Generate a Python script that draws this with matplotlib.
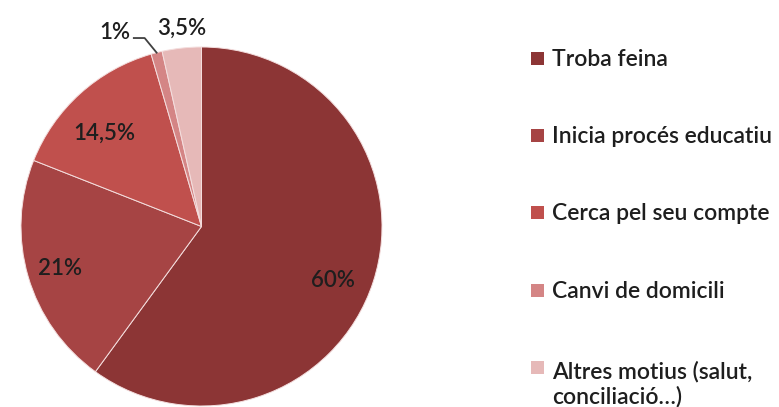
import numpy as np
import matplotlib.pyplot as plt
from matplotlib.patches import Rectangle

# data
categories = ['Troba feina', 'Inicia procés educatiu', 'Cerca pel seu compte',
              'Canvi de domicili', 'Altres motius (salut,\nconciliació…)']
values = [60, 21, 14.5, 1, 3.5]
value_labels = ['60%', '21%', '14,5%', '1%', '3,5%']
colors = ['#8c3535', '#a64444', '#c0504d', '#d48585', '#e6b9b8']

plt.rcParams['font.family'] = ['Lato', 'DejaVu Sans']
plt.rcParams['font.weight'] = 600
txt_col = '#1e1e1e'
W, H = 779, 407

fig = plt.figure(figsize=(W / 100, H / 100), dpi=100)
ax = fig.add_axes([21 / W, 1 / H, 361 / W, 359 / H])

wedges, _ = ax.pie(values, colors=colors, startangle=90, counterclock=False,
                   wedgeprops=dict(edgecolor='#f4dede', linewidth=0.7), radius=1)
ax.set_xlim(-1, 1)
ax.set_ylim(-1, 1)
ax.set_aspect('auto')
ax.axis('off')

# data labels inside the big slices (radius, angle nudge as in the original)
label_pos = [(0.79, -4.3), (0.82, 0.3), (0.75, 3.7)]
for w, lab, (r, off) in zip(wedges[:3], value_labels[:3], label_pos):
    ang = np.deg2rad((w.theta1 + w.theta2) / 2 + off)
    ax.text(r * np.cos(ang), r * np.sin(ang), lab, ha='center', va='center',
            fontsize=16, color=txt_col)

# small slices: labels above the pie with a leader line for 1%
ax.text(-0.11, 1.105, value_labels[4], ha='center', va='center', fontsize=16, color=txt_col)
ax.text(-0.48, 1.08, value_labels[3], ha='center', va='center', fontsize=16, color=txt_col)
w = wedges[3]
ang = np.deg2rad((w.theta1 + w.theta2) / 2)
ex, ey = np.cos(ang), np.sin(ang)
ax.plot([-0.375, -0.315, ex], [1.05, 1.05, ey], color='#404040', lw=1.3, clip_on=False)

# legend (handle aligned with first text line, like Excel)
row_y = [58, 135, 212, 290, 367]
line_step = 28
for cat, col, y in zip(categories, colors, row_y):
    fig.add_artist(Rectangle((531 / W, (H - y - 6.5) / H), 13 / W, 13 / H,
                             facecolor=col, edgecolor='none', transform=fig.transFigure))
    base = y + 8 + cat.count('\n') * line_step
    fig.text(552 / W, (H - base) / H, cat, ha='left', va='baseline', fontsize=16.5,
             color=txt_col, linespacing=1.15)

fig.savefig('out.png', dpi=100)
